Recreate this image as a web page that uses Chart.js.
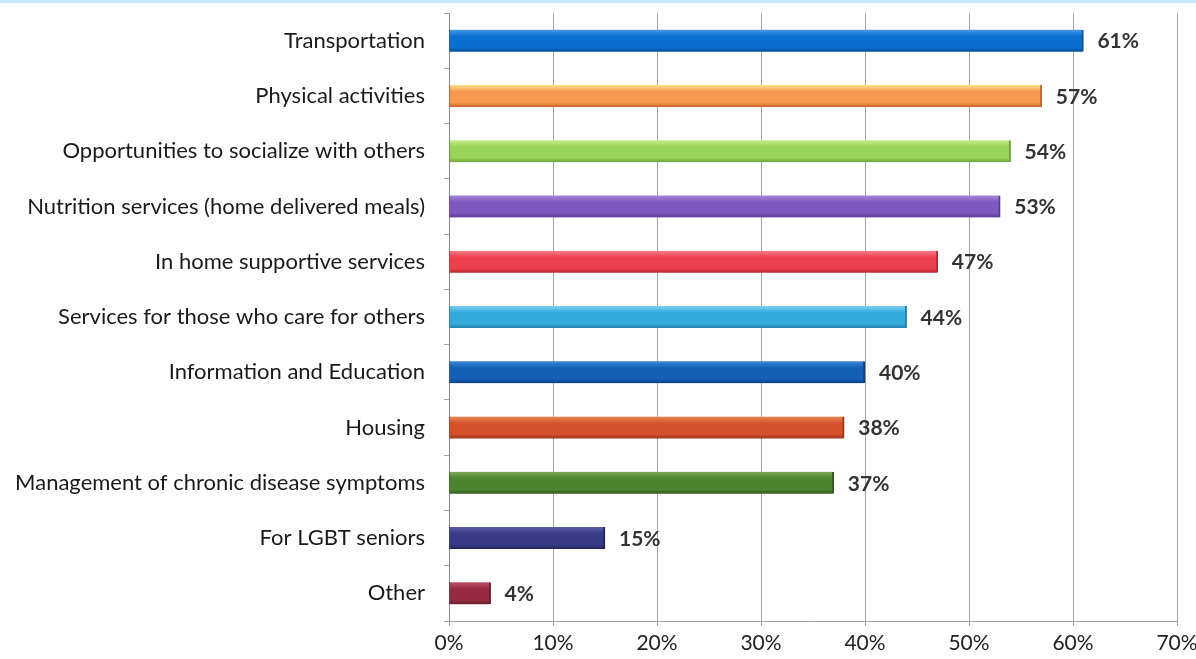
<!DOCTYPE html>
<html>
<head>
<meta charset="utf-8">
<script src="https://cdn.jsdelivr.net/npm/chart.js@4.4.1/dist/chart.umd.min.js"></script>
<style>
  html, body { margin: 0; padding: 0; background: #fff; }
  #wrap { position: relative; width: 1196px; height: 659px; }
  #topline { position: absolute; left: 0; top: 0; width: 1196px; height: 3px; background: #c4e8f8; }
</style>
</head>
<body>
<div id="wrap">
  <canvas id="myChart" width="1196" height="659"></canvas>
  <div id="topline"></div>
</div>
<script>
// Danh mục
const categories = [
    'Transportation',
    'Physical activities',
    'Opportunities to socialize with others',
    'Nutrition services (home delivered meals)',
    'In home supportive services',
    'Services for those who care for others',
    'Information and Education',
    'Housing',
    'Management of chronic disease symptoms',
    'For LGBT seniors',
    'Other'
];

// Giá trị (%)
const percentValues = [61, 57, 54, 53, 47, 44, 40, 38, 37, 15, 4];

// Nhãn trục x
const xTickValues = [0, 10, 20, 30, 40, 50, 60, 70];

// Màu thanh: [sáng trên, chính, tối dưới]
const barColors = [
    ['#4a9ae6', '#0a6fd0', '#0a4f9a'],
    ['#fde28a', '#f79a4e', '#c8652a'],
    ['#c8ec8a', '#9ad35a', '#6fa43a'],
    ['#a58ad8', '#7e58c0', '#5a3c94'],
    ['#f8808a', '#ee3f4c', '#b82a34'],
    ['#7ed0f0', '#34abdc', '#1f7fab'],
    ['#3f86d6', '#1460b8', '#0c3f82'],
    ['#ec8a5a', '#d4502a', '#9a361a'],
    ['#7eaa5a', '#4e8430', '#335a1e'],
    ['#5f5ea8', '#373a86', '#22245a'],
    ['#c0506a', '#962a40', '#641a2a']
];

const ctx = document.getElementById('myChart').getContext('2d');
const fontFamily = 'Lato, "Open Sans", sans-serif';

// Tô gradient dọc cho từng thanh
function barGradient(context) {
    const chart = context.chart;
    const cols = barColors[context.dataIndex] || barColors[0];
    const yScale = chart.scales.y;
    if (!yScale || yScale.top === undefined) return cols[1];
    const yc = yScale.getPixelForValue(context.dataIndex);
    const g = chart.ctx.createLinearGradient(0, yc - 11, 0, yc + 11);
    g.addColorStop(0, cols[0]);
    g.addColorStop(0.3, cols[1]);
    g.addColorStop(0.8, cols[1]);
    g.addColorStop(1, cols[2]);
    return g;
}

// Plugin vẽ nhãn giá trị sau thanh
const valueLabels = {
    id: 'valueLabels',
    afterDatasetsDraw(chart) {
        const c = chart.ctx;
        const meta = chart.getDatasetMeta(0);
        c.save();
        c.font = 'bold 21px ' + fontFamily;
        c.fillStyle = '#333333';
        c.textAlign = 'left';
        c.textBaseline = 'middle';
        meta.data.forEach((bar, i) => {
            c.fillText(percentValues[i] + '%', bar.x + 14, bar.y + 1);
        });
        c.restore();
    }
};

const chart = new Chart(ctx, {
    type: 'bar',
    data: {
        labels: categories,
        datasets: [{
            data: percentValues,
            backgroundColor: barGradient,
            borderColor: (c) => (barColors[c.dataIndex] || barColors[0])[2],
            borderWidth: { right: 2, left: 1, top: 0, bottom: 0 },
            borderSkipped: false,
            barThickness: 22
        }]
    },
    options: {
        indexAxis: 'y',
        responsive: false,
        animation: false,
        layout: {
            padding: { top: 13, right: 0, bottom: 0, left: 0 }
        },
        plugins: {
            legend: { display: false },
            tooltip: { enabled: false }
        },
        scales: {
            x: {
                min: 0,
                max: 70,
                afterBuildTicks: (axis) => {
                    axis.ticks = xTickValues.map(v => ({ value: v }));
                },
                afterFit: (axis) => {
                    axis.height = 38;
                    axis.paddingRight = 19;
                    axis.paddingLeft = 0;
                },
                grid: {
                    color: '#a6a6a6',
                    lineWidth: 1,
                    drawTicks: true,
                    tickLength: 5
                },
                border: { color: '#a6a6a6' },
                ticks: {
                    callback: (v) => v + '%',
                    color: '#222222',
                    font: { family: fontFamily, size: 21 },
                    padding: 5,
                    maxRotation: 0
                }
            },
            y: {
                afterFit: (axis) => {
                    axis.width = 449;
                    axis.paddingTop = 0;
                    axis.paddingBottom = 0;
                },
                grid: {
                    drawOnChartArea: false,
                    drawTicks: true,
                    tickLength: 5,
                    color: '#a6a6a6',
                    offset: true
                },
                border: { color: '#8a8a8a' },
                ticks: {
                    color: '#1a1a1a',
                    font: { family: fontFamily, size: 22 },
                    padding: 19,
                    autoSkip: false
                }
            }
        }
    },
    plugins: [valueLabels]
});
</script>
</body>
</html>
